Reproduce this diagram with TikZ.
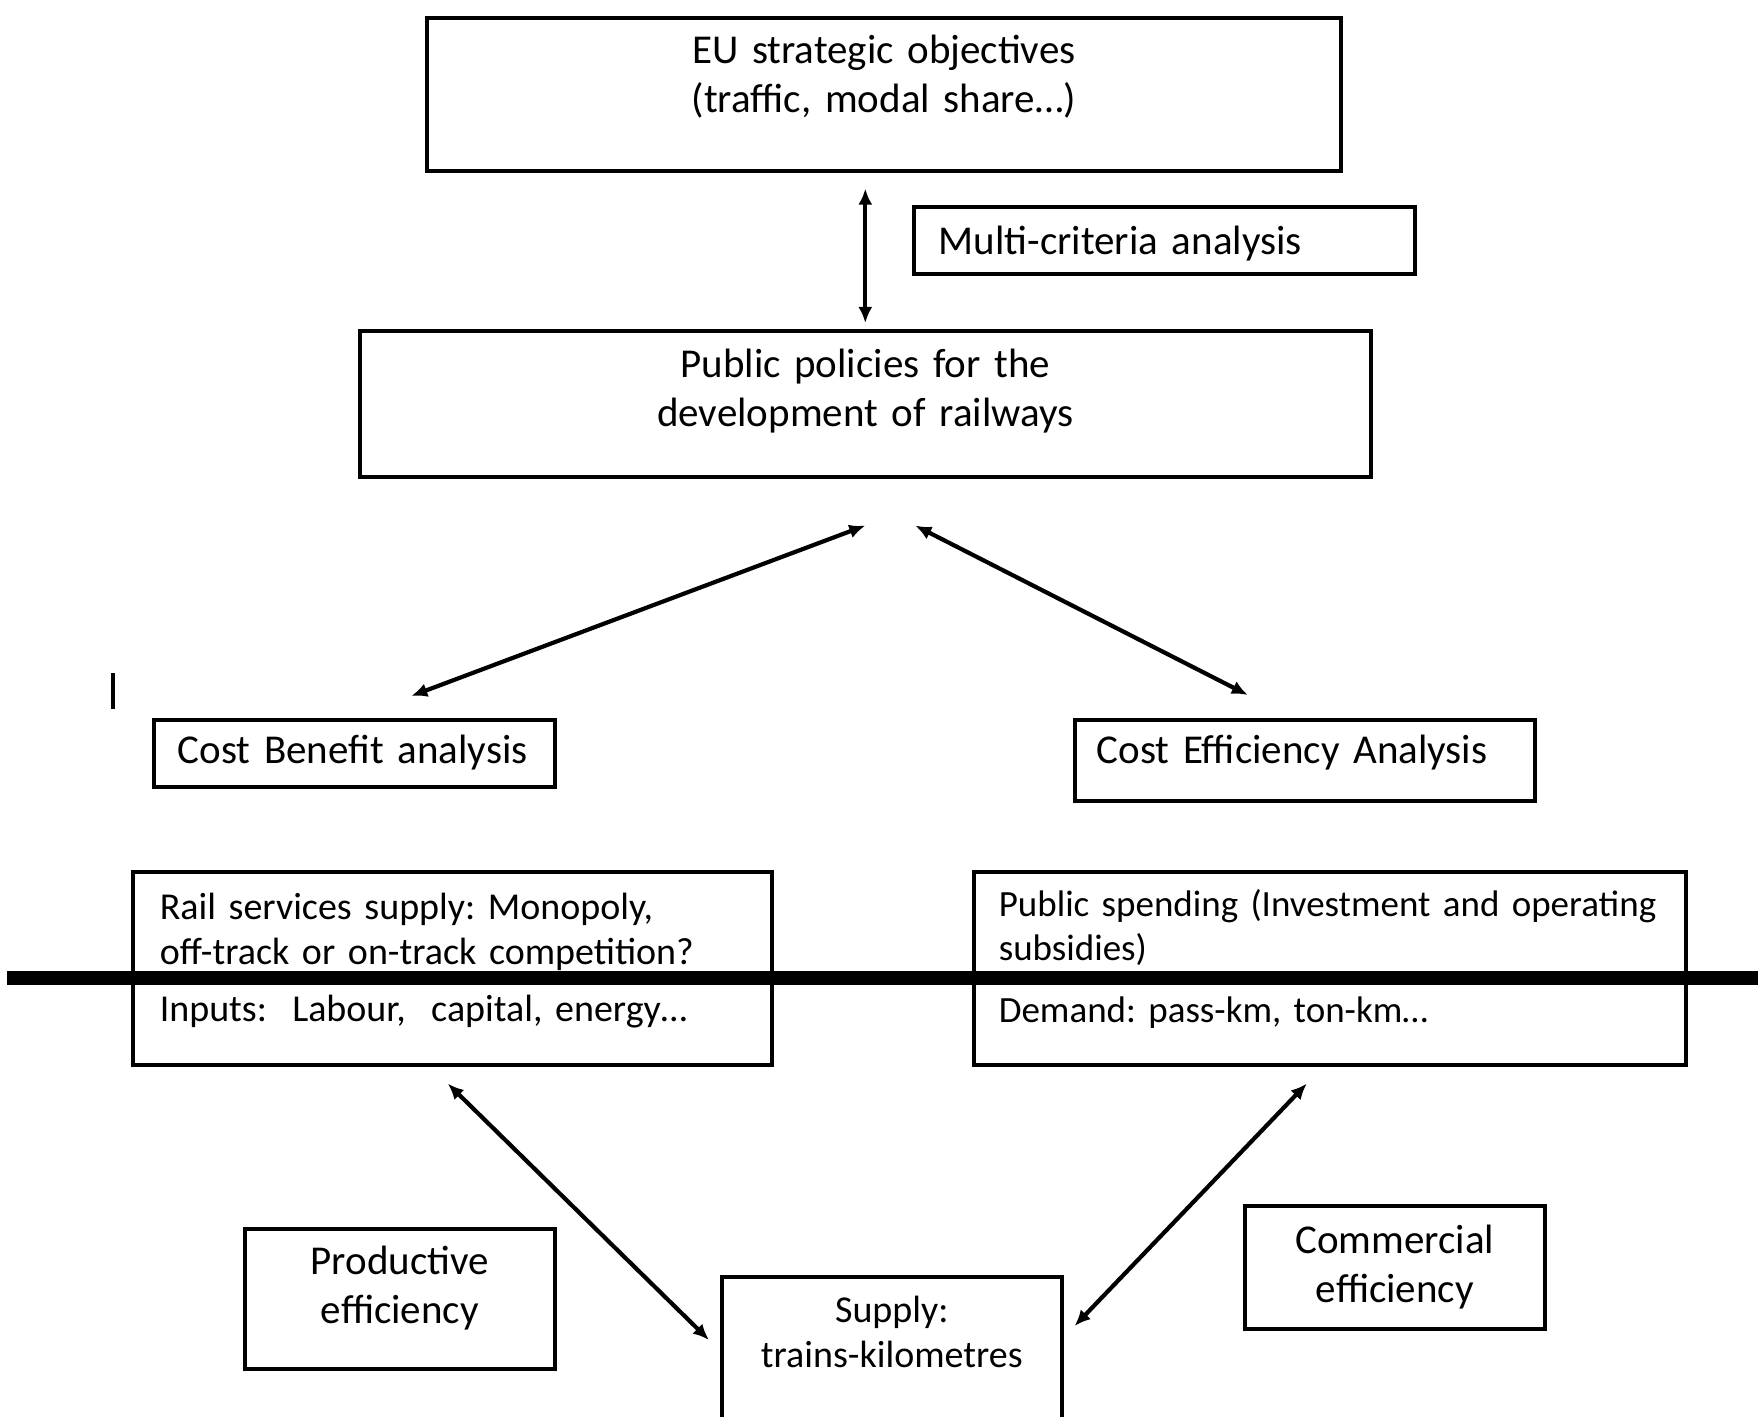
\documentclass[tikz,border=0pt]{standalone}
\usepackage{fontspec}
\setmainfont{Carlito}
\usetikzlibrary{arrows.meta}
\frenchspacing

\tikzset{
  box/.style={draw, rectangle, line width=1.8pt, inner ysep=0pt, anchor=north west},
  bigtext/.style={font=\fontsize{20.5}{24.5}\selectfont},
  smalltext/.style={font=\fontsize{19}{22.5}\selectfont},
  twoway/.style={{Latex[length=8pt,width=7pt]}-{Latex[length=8pt,width=7pt]}, line width=2.1pt}
}

\begin{document}
\begin{tikzpicture}[x=0.5pt, y=-0.5pt]
    \useasboundingbox (0,0) rectangle (1758,1417);

    \node[box, bigtext, align=center, inner xsep=0pt, text width=457pt, text height=23pt, text depth=53.5pt] (eu) at (425,16) {EU strategic objectives\\(traffic, modal share…)};
    \node[box, bigtext, align=left, inner xsep=12.5pt, text width=225.5pt, text height=24pt, text depth=9.5pt] (mca) at (912,205) {Multi-criteria analysis};
    \node[box, bigtext, align=center, inner xsep=0pt, text width=505.5pt, text height=23.5pt, text depth=49.5pt] (pol) at (358,329) {Public policies for the\\development of railways};
    \node[box, bigtext, align=left, inner xsep=12pt, text width=176.5pt, text height=22pt, text depth=11.5pt] (cba) at (152,718) {Cost Benefit analysis};
    \node[box, bigtext, align=left, inner xsep=11pt, text width=208pt, text height=22pt, text depth=18.5pt] (cea) at (1073,718) {Cost Efficiency Analysis};
    \node[box, smalltext, align=left, inner xsep=13.5pt, text width=292.5pt, text height=24pt, text depth=72.5pt] (rail) at (131,870) {Rail services supply: Monopoly,\\off-track or on-track competition?\\[6pt]Inputs:\ \ Labour,\ \ capital, energy…};
    \node[box, smalltext, font=\fontsize{18.5}{22}\selectfont, align=left, inner xsep=12.5pt, text width=331pt, text height=22.5pt, text depth=74pt] (pspend) at (972,870) {\mbox{Public spending (Investment and operating}\\subsidies)\\[9pt]Demand: pass-km, ton-km…};
    \node[box, smalltext, align=center, inner xsep=0pt, text width=170pt, text height=23pt, text depth=90pt] (supply) at (720,1275) {Supply:\\trains-kilometres};
    \node[box, bigtext, align=center, inner xsep=0pt, text width=155pt, text height=23pt, text depth=47pt] (prod) at (243,1227) {Productive\\efficiency};
    \node[box, bigtext, align=center, inner xsep=0pt, text width=150pt, text height=24pt, text depth=37.5pt] (comm) at (1243,1204) {Commercial\\efficiency};

    \draw[twoway, shorten <=8pt, shorten >=3pt] (eu.south -| pol.north) -- (pol.north);
    \draw[twoway] ([yshift=-23.5pt]pol.south) -- ([xshift=28.5pt,yshift=11pt]cba.north);
    \draw[twoway] ([xshift=25pt,yshift=-23.5pt]pol.south) -- ([xshift=-28.5pt,yshift=11.5pt]cea.north);
    \draw[twoway] ([xshift=-2.25pt,yshift=-8.5pt]rail.south) -- ([xshift=-5.5pt,yshift=-32.5pt]supply.north west);
    \draw[twoway] ([xshift=-11.5pt,yshift=-8.5pt]pspend.south) -- ([xshift=5.5pt,yshift=-25.5pt]supply.north east);

    % thick rule across the lower boxes, stray mark on the left
    \draw[line width=7pt] (7,978) -- (1758,978);
    \draw[line width=2pt] (113,673) -- (113,709);
\end{tikzpicture}
\end{document}
